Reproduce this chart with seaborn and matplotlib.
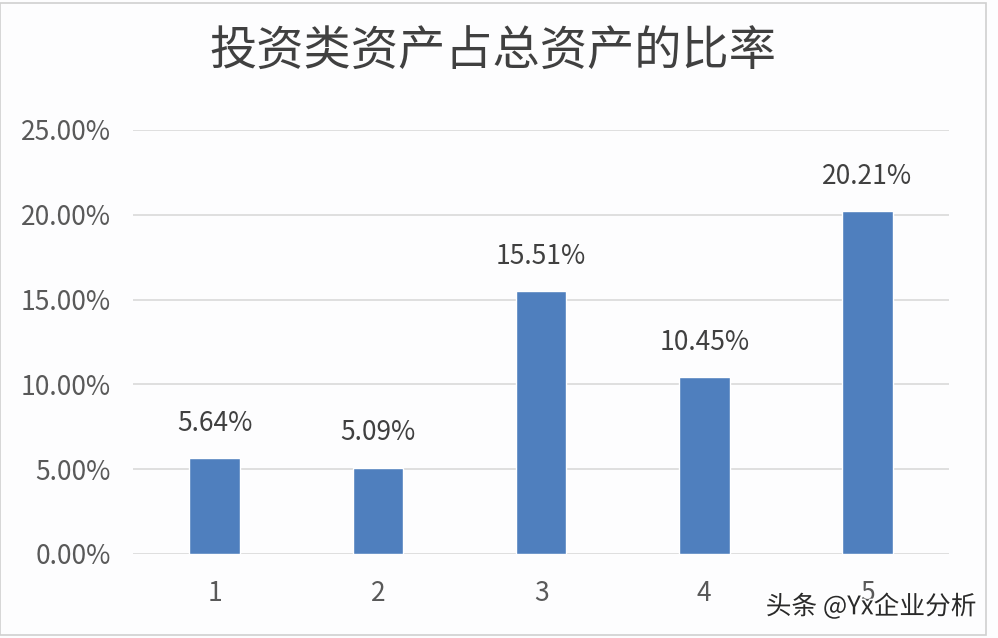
import matplotlib
matplotlib.use("Agg")
import matplotlib.pyplot as plt
import matplotlib.patheffects as pe
from matplotlib.patches import Rectangle
from matplotlib.ticker import FuncFormatter
import seaborn as sns
import pandas as pd

# data
periods = ["1", "2", "3", "4", "5"]
ratios = [5.64, 5.09, 15.51, 10.45, 20.21]
y_ticks = [0, 5, 10, 15, 20, 25]
title = "投资类资产占总资产的比率"
watermark = "头条 @Yx企业分析"

sns.set_theme(style="white")
plt.rcParams['font.family'] = ['Noto Sans CJK SC', 'DejaVu Sans']

df = pd.DataFrame({"period": periods, "ratio": ratios})

fig = plt.figure(figsize=(9.98, 6.38), dpi=100)
fig.patch.set_facecolor("#FDFDFE")
ax = fig.add_axes([0.1333, 0.1317, 0.8177, 0.6646])
ax.set_facecolor("#FDFDFE")

sns.barplot(data=df, x="period", y="ratio", color="#4F7FBE", saturation=1,
            width=0.31, ax=ax, zorder=3)

ax.set_ylim(0, 25)
ax.set_xlim(-0.5, 4.5)
ax.set_yticks(y_ticks)
ax.yaxis.set_major_formatter(FuncFormatter(lambda v, _: f"{v:.2f}%"))
ax.grid(axis="y", color="#D9D9D9", linewidth=1.2, zorder=0)
ax.set_axisbelow(True)
for s in ax.spines.values():
    s.set_visible(False)
ax.tick_params(axis="y", length=0, pad=16, labelsize=19, labelcolor="#595959")
ax.tick_params(axis="x", length=0, pad=19, labelsize=19, labelcolor="#595959")
for lab in ax.get_xticklabels() + ax.get_yticklabels():
    lab.set_fontweight("light")
ax.set_xlabel("")
ax.set_ylabel("")

for i, v in enumerate(ratios):
    ax.annotate(f"{v:.2f}%", (i, v), xytext=(0, 25), textcoords="offset points",
                ha="center", va="center", fontsize=19, color="#404040",
                fontweight="light")

fig.text(0.494, 0.918, title, ha="center", va="center", fontsize=34, color="#404040",
         fontweight="light")

# chart frame
fig.patches.append(Rectangle((0.0, 0.0047), 0.988, 0.9906, transform=fig.transFigure,
                             fill=False, edgecolor="#D0D0D0", linewidth=1.2))

fig.text(0.873, 0.049, watermark, ha="center", va="center", fontsize=18.5, color="#2A2A2A",
         path_effects=[pe.withStroke(linewidth=2.5, foreground="white")])

fig.savefig("out.png", dpi=100, facecolor=fig.get_facecolor())
